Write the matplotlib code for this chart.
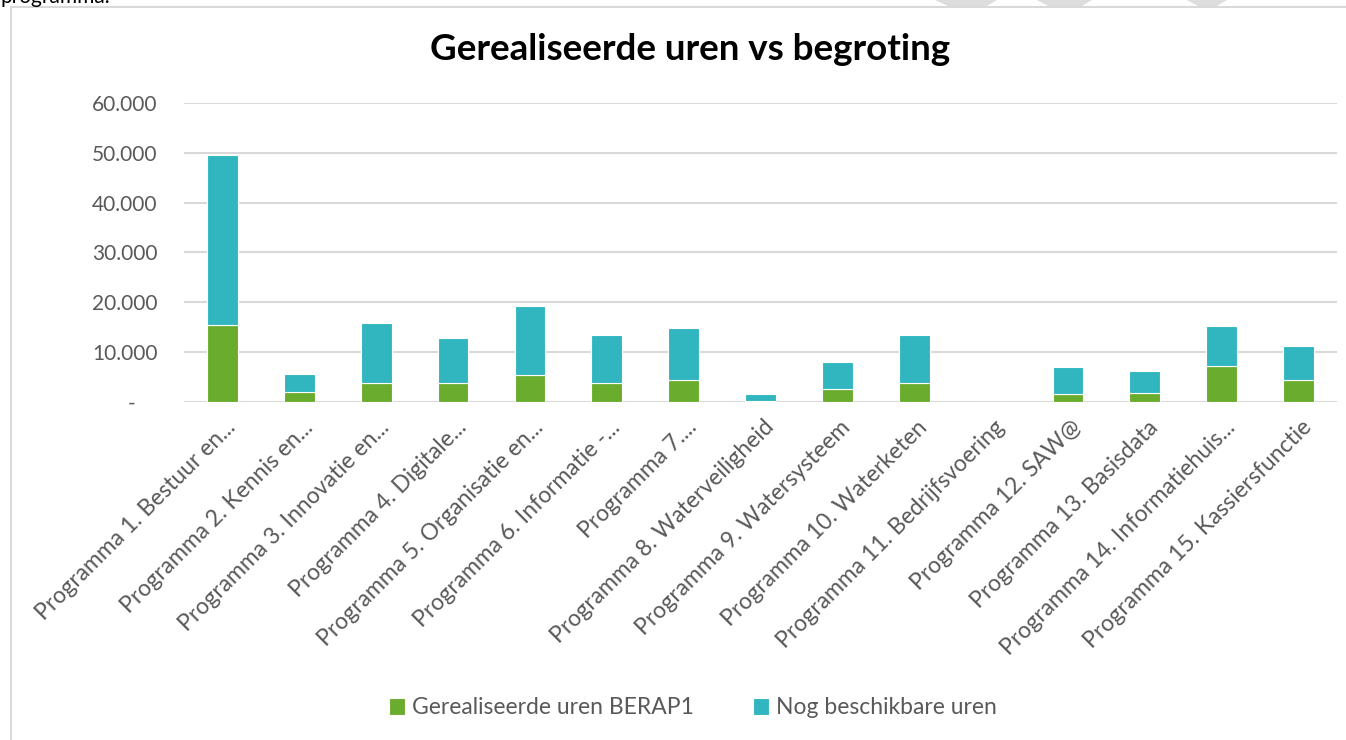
import matplotlib.pyplot as plt
from matplotlib.ticker import FuncFormatter
from matplotlib.lines import Line2D
from matplotlib.patches import Polygon
from matplotlib.transforms import ScaledTranslation

programmas = [
    'Programma 1. Bestuur en...', 'Programma 2. Kennis en...',
    'Programma 3. Innovatie en...', 'Programma 4. Digitale...',
    'Programma 5. Organisatie en...', 'Programma 6. Informatie -...',
    'Programma 7....', 'Programma 8. Waterveiligheid',
    'Programma 9. Watersysteem', 'Programma 10. Waterketen',
    'Programma 11. Bedrijfsvoering', 'Programma 12. SAW@',
    'Programma 13. Basisdata', 'Programma 14. Informatiehuis...',
    'Programma 15. Kassiersfunctie',
]
gerealiseerd = [15400, 2000, 3800, 3800, 5300, 3800, 4300, 130, 2500, 3800, 0, 1500, 1700, 7200, 4300]
beschikbaar = [34300, 3600, 12100, 9000, 14000, 9600, 10600, 1370, 5400, 9600, 0, 5400, 4400, 8000, 7000]

green = '#6AAD2E'
teal = '#31B6C0'
grey = '#595959'

plt.rcParams['font.family'] = ['Lato', 'DejaVu Sans']

fig = plt.figure(figsize=(13.46, 7.40), dpi=100)
W, H = 1346, 740
ax = fig.add_axes([184 / W, 1 - 401.7 / H, (1337 - 184) / W, (401.7 - 103.3) / H])

x = range(len(programmas))
ax.bar(x, gerealiseerd, width=0.4, color=green, edgecolor='white', linewidth=0.8,
       label='Gerealiseerde uren BERAP1', zorder=3)
ax.bar(x, beschikbaar, width=0.4, bottom=gerealiseerd, color=teal, edgecolor='white',
       linewidth=0.8, label='Nog beschikbare uren', zorder=3)

ax.set_xlim(-0.5, len(programmas) - 0.5)
ax.set_ylim(0, 60000)
ax.set_yticks(range(0, 60001, 10000))
ax.yaxis.set_major_formatter(FuncFormatter(
    lambda v, p: '-    ' if v == 0 else f'{int(v):,}'.replace(',', '.')))
ax.grid(axis='y', color='#D9D9D9', linewidth=1.5, zorder=0)
for s in ax.spines.values():
    s.set_visible(False)
ax.tick_params(axis='y', length=0, pad=19, labelsize=15, labelcolor=grey)
ax.tick_params(axis='x', length=0, pad=16)
ax.set_xticks(list(x))
ax.set_xticklabels(programmas, rotation=45, ha='right', va='center',
                   rotation_mode='anchor', fontsize=16.5, color=grey)
shift = ScaledTranslation(10 / 100, 0, fig.dpi_scale_trans)
for lbl in ax.get_xticklabels():
    lbl.set_transform(lbl.get_transform() + shift)

fig.text(690 / W, 1 - 50 / H, 'Gerealiseerde uren vs begroting', ha='center', va='center',
         fontsize=26.5, fontweight='bold', color='black')

fig.legend(loc='center', bbox_to_anchor=(693 / W, 1 - 708 / H), ncol=2, frameon=False,
           fontsize=16.5, labelcolor=grey, handlelength=0.7, handleheight=0.7,
           handletextpad=0.3, columnspacing=2.6)

# chart frame
fig.add_artist(Line2D([11 / W, 11 / W], [0, 1 - 7 / H], color='#D9D9D9', lw=1.5))
fig.add_artist(Line2D([11 / W, 1], [1 - 7 / H, 1 - 7 / H], color='#D9D9D9', lw=1.5))

# cut-off text and watermark above the chart
fig.text(0.0, 1 - 3 / H, 'programma.', fontsize=15, va='baseline', color='black')
for xs in [(935, 997, 987, 948), (1037, 1092, 1082, 1048), (1187, 1227, 1217, 1198)]:
    fig.add_artist(Polygon([(xs[0] / W, 1), (xs[1] / W, 1), (xs[2] / W, 1 - 6 / H),
                            (xs[3] / W, 1 - 6 / H)], closed=True, color='#DDDDDD', lw=0))

fig.savefig('out.png', dpi=100)
